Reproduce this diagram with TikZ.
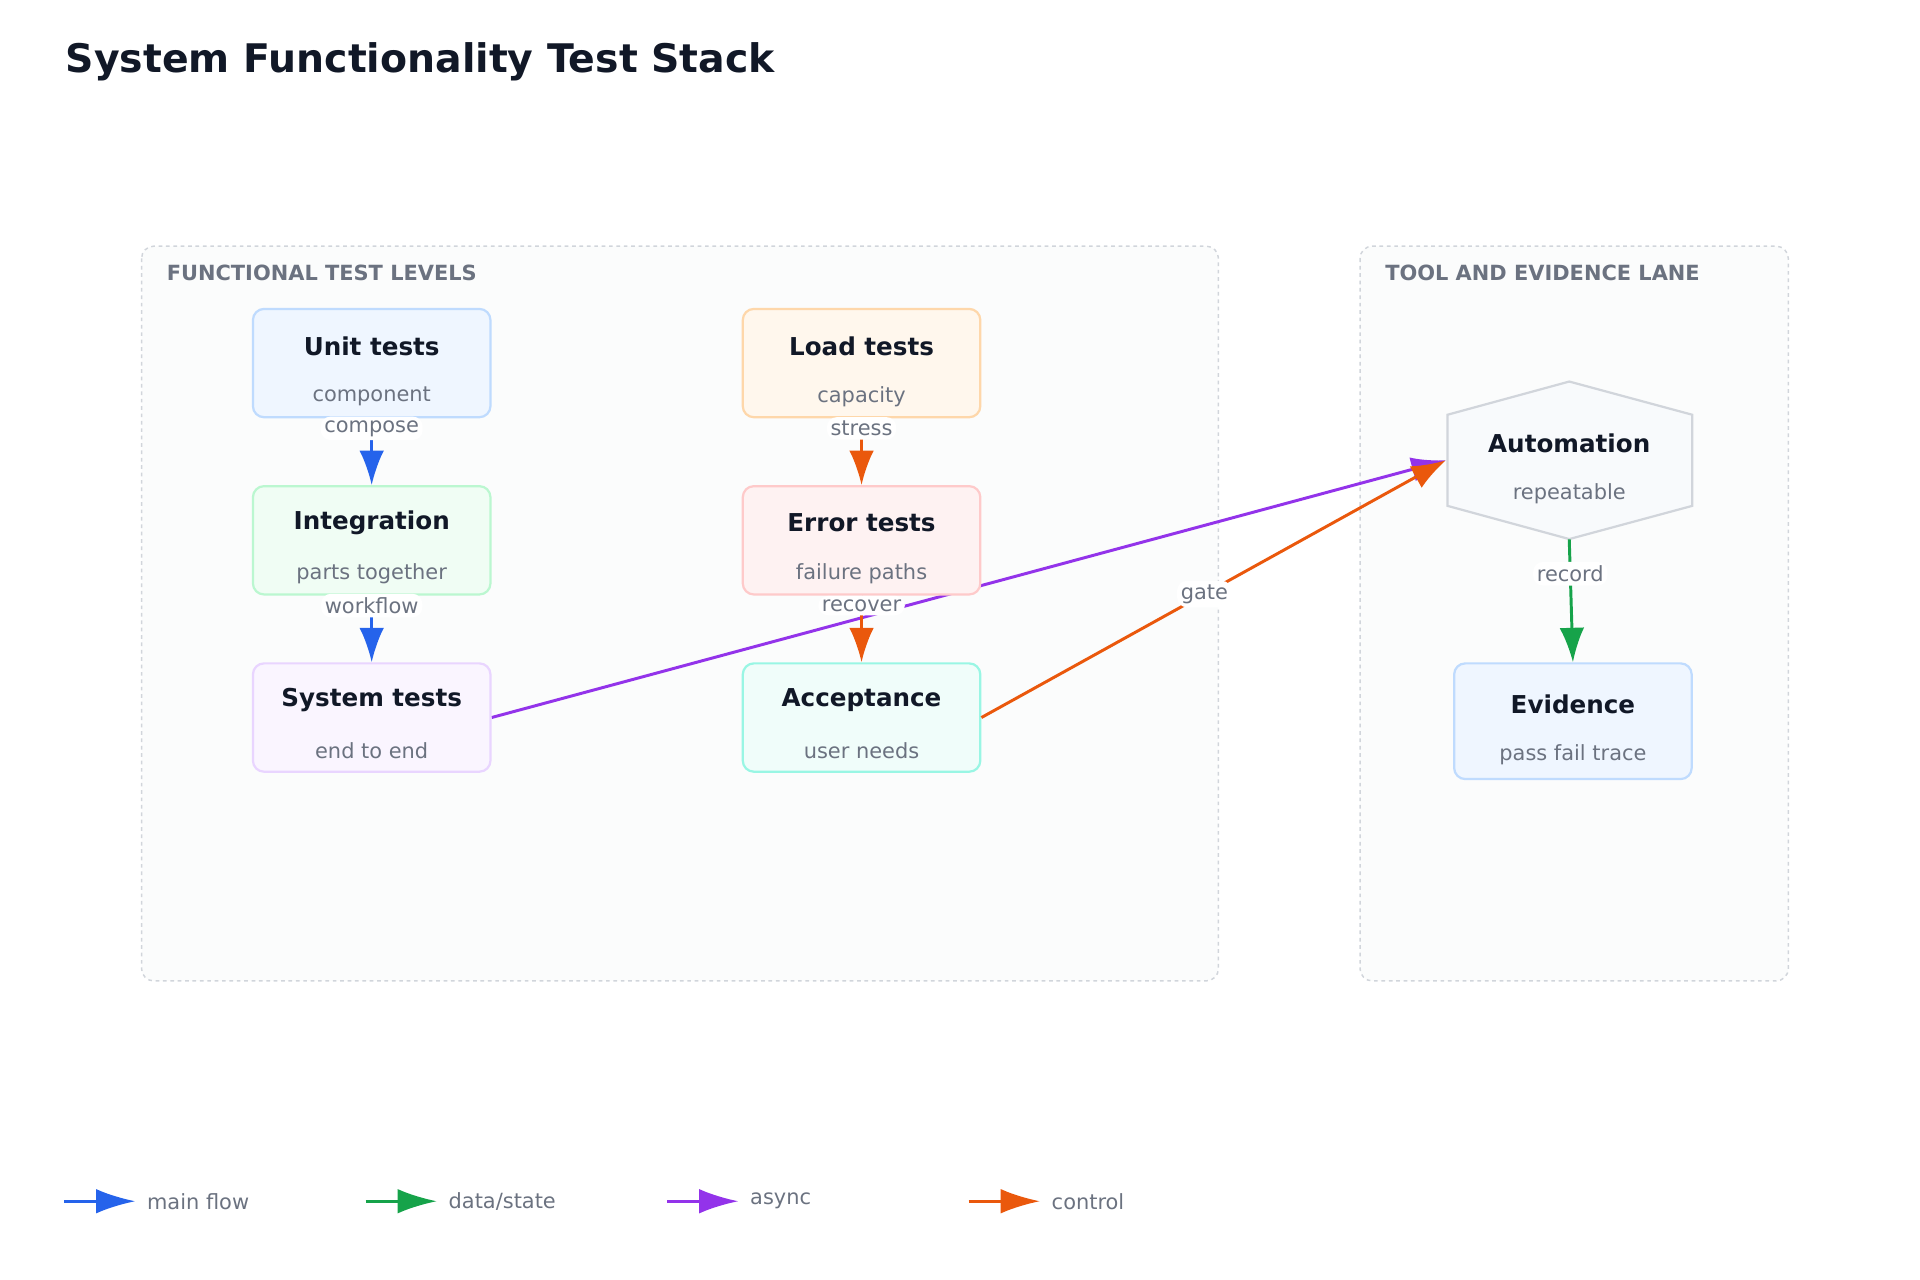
\documentclass[tikz,border=0pt]{standalone}
\usepackage{fontspec}
\setmainfont{DejaVu Sans}
\usetikzlibrary{positioning,arrows.meta,backgrounds}
\definecolor{ink}{HTML}{111827}
\definecolor{mute}{HTML}{6B7280}
\definecolor{myblue}{HTML}{2563EB}
\definecolor{mygreen}{HTML}{16A34A}
\definecolor{mypurple}{HTML}{9333EA}
\definecolor{myorange}{HTML}{EA580C}
\definecolor{framegray}{HTML}{D1D5DB}

\begin{document}
\begin{tikzpicture}[x=1pt,y=-1pt,
  lane/.style={draw=framegray,dashed,line width=1.2pt,rounded corners=10pt,fill={rgb,255:red,251;green,252;blue,252}},
  lanelabel/.style={anchor=west,text=mute,font=\bfseries\fontsize{17}{20}\selectfont},
  box/.style={rectangle,rounded corners=9pt,line width=1.8pt,minimum width=193pt,
    minimum height=88pt,align=center,text=ink},
  boxtxt/.style={font=\bfseries\fontsize{20}{24}\selectfont,text=ink},
  subtxt/.style={font=\fontsize{17}{20}\selectfont,text=mute},
  flow/.style={line width=2.4pt,-{Latex[length=28pt,width=20pt]}},
  elabel/.style={fill=white,rounded corners=8pt,inner sep=3pt,text=mute,
    font=\fontsize{17}{20}\selectfont}]

  \useasboundingbox (0,0) rectangle (1560,1040);
  \node[anchor=west,text=ink,font=\bfseries\fontsize{32}{38}\selectfont] (title) at (50,50) {System Functionality Test Stack};

  % lanes and the long edge sit behind the boxes
  \begin{scope}[on background layer]
    \draw[lane] (115,200) rectangle (990,797);
    \draw[lane] (1105,200) rectangle (1453,797);
  \end{scope}
  \node[lanelabel] (lane1) at (132,222) {FUNCTIONAL TEST LEVELS};
  \node[lanelabel] (lane2) at (1122,222) {TOOL AND EVIDENCE LANE};

  \node[box,fill={rgb,255:red,239;green,246;blue,255},draw={rgb,255:red,191;green,219;blue,254}] (unit) at (302,295) {};
  \node[box,fill={rgb,255:red,240;green,253;blue,244},draw={rgb,255:red,187;green,247;blue,208}] (integ) at (302,439) {};
  \node[box,fill={rgb,255:red,250;green,245;blue,255},draw={rgb,255:red,233;green,213;blue,255}] (system) at (302,583) {};
  \node[box,fill={rgb,255:red,255;green,247;blue,237},draw={rgb,255:red,254;green,215;blue,170}] (load) at (700,295) {};
  \node[box,fill={rgb,255:red,254;green,242;blue,242},draw={rgb,255:red,254;green,202;blue,202}] (error) at (700,439) {};
  \node[box,fill={rgb,255:red,240;green,253;blue,250},draw={rgb,255:red,153;green,246;blue,228}] (accept) at (700,583) {};
  \node[box,fill={rgb,255:red,239;green,246;blue,255},draw={rgb,255:red,191;green,219;blue,254},minimum height=94pt] (evid) at (1278,586) {};

  % hexagon for the automation step
  \node[minimum width=200pt,minimum height=128pt] (auto) at (1275,374) {};
  \draw[line width=1.8pt,draw=framegray,fill={rgb,255:red,248;green,250;blue,252}]
    (1275,310) -- (1375,337) -- (1375,411) -- (1275,438) -- (1176,411) -- (1176,337) -- cycle;

  \foreach \n/\a/\b in {unit/Unit tests/component, integ/Integration/parts together,
      system/System tests/end to end, load/Load tests/capacity, error/Error tests/failure paths,
      accept/Acceptance/user needs, evid/Evidence/pass fail trace, auto/Automation/repeatable}{
    \node[boxtxt] at ([yshift=14pt]\n.center) {\a};
    \node[subtxt] at ([yshift=-27pt]\n.center) {\b};
  }

  \begin{scope}[on background layer]
    \draw[flow,mypurple] (system.east) -- (auto.west);
  \end{scope}
  \draw[flow,myorange] (accept.east) -- node[elabel,pos=0.48,sloped=false] {gate} (auto.west);

  \draw[flow,myblue] (unit) -- node[elabel,pos=0.15] {compose} (integ);
  \draw[flow,myblue] (integ) -- node[elabel,pos=0.15] {workflow} (system);
  \draw[flow,myorange] (load) -- node[elabel,pos=0.15] {stress} (error);
  \draw[flow,myorange] (error) -- node[elabel,pos=0.15] {recover} (accept);
  \draw[flow,mygreen] (auto.south) -- node[elabel,pos=0.28] {record} (evid.north);

  % legend
  \foreach \c/\t [count=\i from 0] in {myblue/main flow,mygreen/{data/state},mypurple/async,myorange/control}{
    \coordinate (leg\i) at (52+245*\i,976);
    \draw[flow,\c,-{Latex[length=32pt,width=20pt]}] (leg\i) -- ++(58,0) coordinate (lege\i);
    \node[anchor=west,subtxt] at ([xshift=6pt]lege\i) {\t};
  }
\end{tikzpicture}
\end{document}
